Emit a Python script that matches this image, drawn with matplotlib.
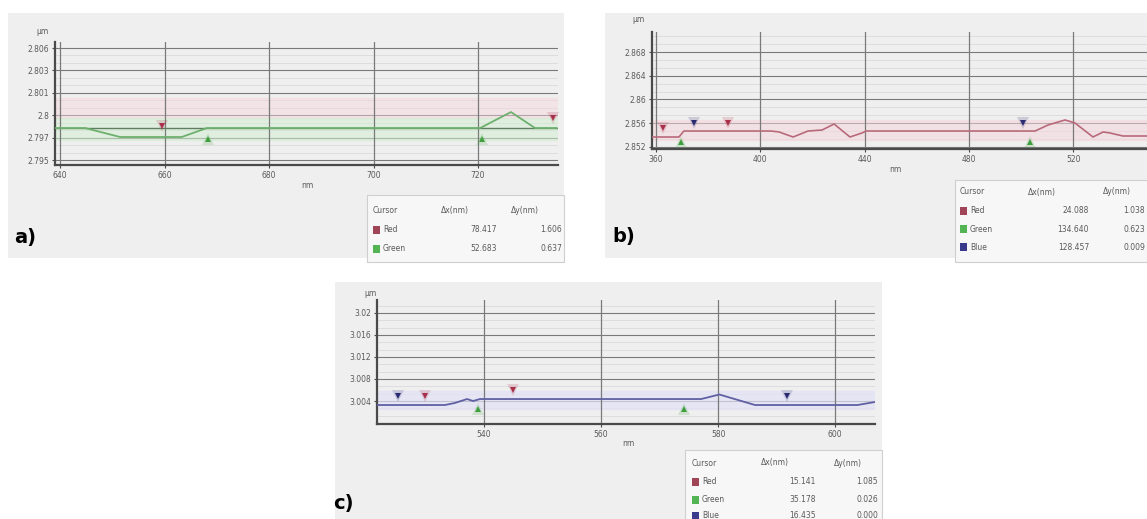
import matplotlib
matplotlib.use("Agg")
import matplotlib.pyplot as plt
from matplotlib.patches import Rectangle
from matplotlib.ticker import FixedLocator, FixedFormatter, AutoMinorLocator

plt.rcParams["font.family"] = "DejaVu Sans"

W, H = 1147, 519

# ---- panel a: green profile ----
A_X = [639.0, 644.8, 651.5, 663.3, 668.1, 720.4, 726.3, 730.9, 735.0]
A_Y = [2.79814, 2.79814, 2.79726, 2.79726, 2.79814, 2.79814, 2.79971, 2.79814, 2.79814]
A_XTICKS = [640, 660, 680, 700, 720]
A_YTICKS = [2.795, 2.7972, 2.7994, 2.8016, 2.8038, 2.806]
A_YLABELS = ["2.795", "2.797", "2.8", "2.801", "2.803", "2.806"]
A_RED = ([659.5, 734.4], [2.7983, 2.79912])
A_GREEN = ([668.3, 720.8], [2.79706, 2.79706])
A_ROWS = [("Red", "78.417", "1.606"), ("Green", "52.683", "0.637")]

# ---- panel b: red profile ----
B_X = [358.5, 360.8, 368.8, 370.7, 404.1, 407.2, 412.6, 418.3, 423.7, 428.3,
       434.4, 439.0, 440.6, 501.9, 505.4, 510.4, 516.9, 520.7, 527.6, 531.5,
       534.1, 539.1, 553.0]
B_Y = [2.85368, 2.85368, 2.85368, 2.85469, 2.85469, 2.85453, 2.85368, 2.85469,
       2.85486, 2.85587, 2.85368, 2.85436, 2.85469, 2.85469, 2.85469, 2.85571,
       2.85655, 2.85604, 2.85368, 2.85453, 2.85436, 2.85385, 2.85385]
B_XTICKS = [360, 400, 440, 480, 520]
B_YTICKS = [2.852, 2.856, 2.86, 2.864, 2.868]
B_YLABELS = ["2.852", "2.856", "2.86", "2.864", "2.868"]
B_RED = ([362.7, 387.6], [2.8552, 2.85604])
B_BLUE = ([374.6, 500.8], [2.85604, 2.85604])
B_GREEN = ([369.6, 503.5], [2.85284, 2.85284])
B_ROWS = [("Red", "24.088", "1.038"), ("Green", "134.640", "0.623"),
          ("Blue", "128.457", "0.009")]

# ---- panel c: blue profile ----
C_X = [521.7, 533.3, 535.0, 537.1, 538.1, 539.3, 577.1, 580.2, 586.3, 603.8, 606.8]
C_Y = [3.00327, 3.00327, 3.00364, 3.00436, 3.004, 3.00436, 3.00436, 3.00518,
       3.00327, 3.00327, 3.00382]
C_XTICKS = [540, 560, 580, 600]
C_YTICKS = [3.004, 3.008, 3.012, 3.016, 3.02]
C_YLABELS = ["3.004", "3.008", "3.012", "3.016", "3.02"]
C_NAVY = ([525.3, 591.8], [3.00491, 3.00491])
C_RED = ([529.9, 545.0], [3.00491, 3.006])
C_GREEN = ([539.0, 574.2], [3.00255, 3.00255])
C_ROWS = [("Red", "15.141", "1.085"), ("Green", "35.178", "0.026"),
          ("Blue", "16.435", "0.000")]

BOX = "#efefef"
GRIDC = "#7a7a7a"
TXT = "#5a5a5a"
RED = "#a8304a"
GREEN = "#3f9f3f"
BLUE = "#2a2a70"
SW = {"Red": "#a04458", "Green": "#52b452", "Blue": "#3a3a8a"}

fig = plt.figure(figsize=(W / 100, H / 100), dpi=100)


def fx(x):
    return x / W


def fy(y):
    return 1 - y / H


def box(x0, y0, x1, y1, color, ec="none", z=-2):
    fig.patches.append(Rectangle((fx(x0), fy(y1)), (x1 - x0) / W, (y1 - y0) / H,
                                 transform=fig.transFigure, facecolor=color,
                                 edgecolor=ec, linewidth=0.8, zorder=z))


def make_axes(l, r, t, b, xlim, ylim, xticks, yticks, ylabels):
    ax = fig.add_axes([fx(l), fy(b), (r - l) / W, (b - t) / H])
    ax.set_zorder(1)
    ax.set_facecolor(BOX)
    ax.set_xlim(*xlim)
    ax.set_ylim(*ylim)
    ax.xaxis.set_major_locator(FixedLocator(xticks))
    ax.yaxis.set_major_locator(FixedLocator(yticks))
    ax.yaxis.set_major_formatter(FixedFormatter(ylabels))
    ax.yaxis.set_minor_locator(AutoMinorLocator(3))
    for s in ["top", "right"]:
        ax.spines[s].set_visible(False)
    for s in ["left", "bottom"]:
        ax.spines[s].set_color("#4a4a4a")
        ax.spines[s].set_linewidth(1.6)
    ax.tick_params(which="major", labelsize=5.5, labelcolor=TXT, length=2.5,
                   color="#4a4a4a", pad=1.5)
    ax.tick_params(which="minor", length=0)
    ax.grid(True, which="major", axis="y", color=GRIDC, linewidth=0.8)
    ax.grid(True, which="minor", axis="y", color="#dadada", linewidth=0.6)
    ax.set_axisbelow(True)
    for xt in xticks:
        ax.axvline(xt, color=GRIDC, linewidth=0.9, zorder=0.8)
    return ax


def cursors(ax, pts, color, marker):
    ax.plot(pts[0], pts[1], linestyle="none", marker=marker, markersize=9,
            color=color, alpha=0.18, markeredgewidth=0, zorder=4)
    ax.plot(pts[0], pts[1], linestyle="none", marker=marker, markersize=5,
            color=color, markeredgewidth=0, zorder=5)


def table(x0, x1, y0, y1, header_y, row_ys, rows, c1, c2, c3, h2, h3):
    box(x0, y0, x1, y1, "#f7f7f7", ec="#cfcfcf", z=-1)
    fig.text(fx(c1), fy(header_y), "Cursor", fontsize=5.5, color=TXT, va="center")
    fig.text(fx(h2), fy(header_y), "Δx(nm)", fontsize=5.5, color=TXT,
             va="center", ha="center")
    fig.text(fx(h3), fy(header_y), "Δy(nm)", fontsize=5.5, color=TXT,
             va="center", ha="center")
    for (name, dx, dy), ry in zip(rows, row_ys):
        box(c1, ry - 4, c1 + 7, ry + 4, SW[name], z=-0.5)
        fig.text(fx(c1 + 10), fy(ry), name, fontsize=5.5, color=TXT, va="center")
        fig.text(fx(c2), fy(ry), dx, fontsize=5.5, color=TXT, va="center", ha="right")
        fig.text(fx(c3), fy(ry), dy, fontsize=5.5, color=TXT, va="center", ha="right")


# ---------------- panel a ----------------
box(8, 13, 564, 258, BOX)
axa = make_axes(55, 558, 42, 165, (639.04, 735.3), (2.79451, 2.80659),
                A_XTICKS, A_YTICKS, A_YLABELS)
axa.axhspan(2.79912, 2.80109, color="#f6d6dc", alpha=0.45, zorder=0.6)
axa.axhspan(2.79696, 2.79912, color="#d2eed2", alpha=0.55, zorder=0.6)
axa.axhline(A_Y[0], color="#5f7d5f", linewidth=1.0, zorder=2)
axa.plot(A_X, A_Y, color="#6db06d", linewidth=1.3, zorder=3)
cursors(axa, A_RED, RED, "v")
cursors(axa, A_GREEN, GREEN, "^")
fig.text(fx(36), fy(32), "μm", fontsize=5.5, color=TXT, va="center")
fig.text(fx(307), fy(186), "nm", fontsize=5.5, color=TXT, va="center", ha="center")
fig.text(fx(14), fy(238), "a)", fontsize=14, fontweight="bold", va="center")
table(367, 564, 195, 262, 211, [230, 249], A_ROWS, 373, 497, 562, 455, 525)

# ---------------- panel b ----------------
box(605, 13, 1150, 258, BOX)
axb = make_axes(652, 1160, 32, 149, (358.47, 553.3), (2.85166, 2.87137),
                B_XTICKS, B_YTICKS, B_YLABELS)
axb.axhspan(2.85318, 2.85655, color="#f6d6dc", alpha=0.55, zorder=0.6)
axb.plot(B_X, B_Y, color="#b86a7a", linewidth=1.2, zorder=3)
cursors(axb, B_RED, RED, "v")
cursors(axb, B_BLUE, BLUE, "v")
cursors(axb, B_GREEN, GREEN, "^")
fig.text(fx(632), fy(19), "μm", fontsize=5.5, color=TXT, va="center")
fig.text(fx(895), fy(170), "nm", fontsize=5.5, color=TXT, va="center", ha="center")
fig.text(fx(612), fy(237), "b)", fontsize=14, fontweight="bold", va="center")
table(955, 1150, 180, 262, 192, [211, 229, 247], B_ROWS, 960, 1089, 1145, 1042, 1117)

# ---------------- panel c ----------------
box(335, 282, 882, 522, BOX)
axc = make_axes(377, 875, 300, 424, (521.7, 606.8), (2.99982, 3.02236),
                C_XTICKS, C_YTICKS, C_YLABELS)
axc.axhspan(3.00255, 3.00582, color="#e2e2f6", alpha=0.7, zorder=0.6)
axc.plot(C_X, C_Y, color="#6060a4", linewidth=1.3, zorder=3)
cursors(axc, C_NAVY, BLUE, "v")
cursors(axc, C_RED, RED, "v")
cursors(axc, C_GREEN, GREEN, "^")
fig.text(fx(364), fy(294), "μm", fontsize=5.5, color=TXT, va="center")
fig.text(fx(628), fy(443), "nm", fontsize=5.5, color=TXT, va="center", ha="center")
fig.text(fx(333), fy(503), "c)", fontsize=14, fontweight="bold", va="center")
table(685, 882, 450, 522, 463, [482, 500, 516], C_ROWS, 692, 816, 878, 775, 848)

fig.savefig("out.png", dpi=100)
